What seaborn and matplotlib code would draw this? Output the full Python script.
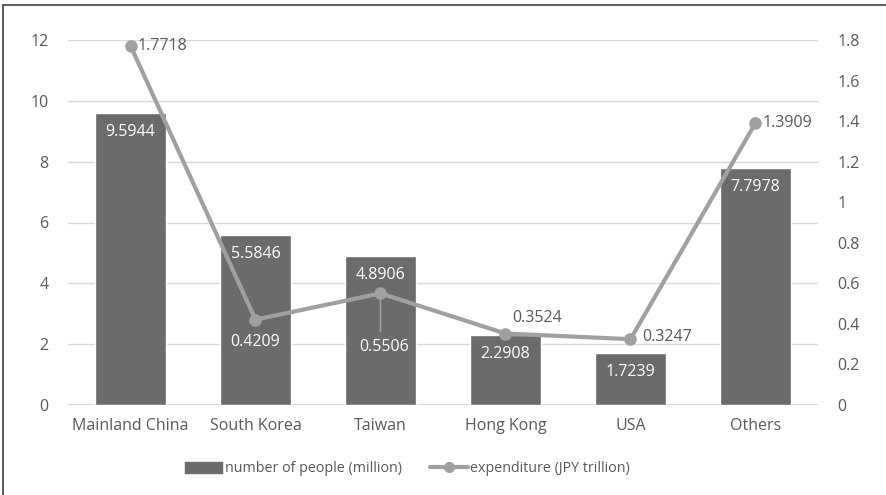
import matplotlib
matplotlib.use("Agg")
import matplotlib.pyplot as plt
import seaborn as sns
import pandas as pd
from matplotlib.lines import Line2D
from matplotlib.patches import Patch

regions = ["Mainland China", "South Korea", "Taiwan", "Hong Kong", "USA", "Others"]
people_million = [9.5944, 5.5846, 4.8906, 2.2908, 1.7239, 7.7978]
spend_trillion = [1.7718, 0.4209, 0.5506, 0.3524, 0.3247, 1.3909]
left_ticks = [0, 2, 4, 6, 8, 10, 12]
right_ticks = [0, 0.2, 0.4, 0.6, 0.8, 1, 1.2, 1.4, 1.6, 1.8]

BAR = "#6b6b6b"
LINE = "#a0a0a0"
TXT = "#595959"
GRID = "#d9d9d9"
FS = 11.5
LEG_FS = 10.3

sns.set_theme(style="white")
plt.rcParams["font.family"] = ["Open Sans", "DejaVu Sans"]

df = pd.DataFrame({"region": regions, "people": people_million, "spend": spend_trillion})

fig = plt.figure(figsize=(8.86, 4.95), dpi=100)
ax = fig.add_axes([68 / 886, 1 - 405 / 495, 750 / 886, 365 / 495])

sns.barplot(data=df, x="region", y="people", color=BAR, saturation=1, width=0.57, ax=ax, zorder=2)
ax.set_ylim(0, 12)
ax.set_yticks(left_ticks)
ax.set_yticklabels([f"{t:g}" for t in left_ticks])
ax.set_xlim(-0.5, len(regions) - 0.5)
ax.grid(axis="y", color=GRID, linewidth=1, zorder=0)
ax.set_axisbelow(True)
for s in ax.spines.values():
    s.set_visible(False)
ax.axhline(0, color=GRID, linewidth=1.5, zorder=1)
ax.set_xlabel("")
ax.set_ylabel("")
ax.tick_params(axis="both", length=0, labelsize=FS, labelcolor=TXT)
ax.tick_params(axis="y", pad=14)
ax.tick_params(axis="x", pad=9)

for i, v in enumerate(people_million):
    ax.annotate(f"{v:.4f}", (i, v), xytext=(0, -19), textcoords="offset pixels",
                ha="center", va="center", color="white", fontsize=FS, zorder=5)

ax2 = ax.twinx()
sns.pointplot(data=df, x="region", y="spend", color=LINE, markers="o", linewidth=3,
              markersize=6.8, ax=ax2, zorder=4)
ax2.set_ylim(0, 1.8)
ax2.set_yticks(right_ticks)
ax2.set_yticklabels([f"{t:g}" for t in right_ticks])
ax2.set_xlim(-0.5, len(regions) - 0.5)
for s in ax2.spines.values():
    s.set_visible(False)
ax2.grid(False)
ax2.set_xlabel("")
ax2.set_ylabel("")
ax2.tick_params(axis="y", length=0, labelsize=FS, labelcolor=TXT, pad=14)

# value labels for the expenditure line: (dx, dy) in pixels, alignment, colour
label_style = [
    ((7, 0), "left", TXT),
    ((0, -22), "center", "white"),
    ((4, -54), "center", "white"),
    ((32, 16), "center", TXT),
    ((12, 2), "left", TXT),
    ((7, 0), "left", TXT),
]
for i, (v, ((dx, dy), ha, c)) in enumerate(zip(spend_trillion, label_style)):
    ax2.annotate(f"{v:.4f}", (i, v), xytext=(dx, dy), textcoords="offset pixels",
                 ha=ha, va="center", color=c, fontsize=FS, zorder=6)

# leader line for the Taiwan expenditure label
tw = regions.index("Taiwan")
ax2.annotate("", (tw, spend_trillion[tw]), xytext=(0, -38), textcoords="offset pixels",
             arrowprops=dict(arrowstyle="-", color=LINE, lw=1.2, shrinkA=0, shrinkB=0))

handles = [
    Patch(facecolor=BAR, edgecolor=BAR),
    Line2D([0], [0], color=LINE, lw=3, marker="o", markersize=7),
]
fig.legend(handles, ["number of people (million)", "expenditure (JPY trillion)"],
           loc="center left", bbox_to_anchor=(179 / 886, 1 - 469 / 495), ncol=2,
           frameon=False, borderaxespad=0, fontsize=LEG_FS, labelcolor=TXT,
           handlelength=2.6, handleheight=0.85, handletextpad=0.2, columnspacing=2.0)

# chart frame (left and top edges)
fig.add_artist(Line2D([3 / 886, 3 / 886], [0, 1 - 5 / 495], color="#404040", lw=1.2,
                      transform=fig.transFigure))
fig.add_artist(Line2D([3 / 886, 1], [1 - 5 / 495, 1 - 5 / 495], color="#404040", lw=1.2,
                      transform=fig.transFigure))

fig.savefig("out.png", dpi=100, facecolor="white")
